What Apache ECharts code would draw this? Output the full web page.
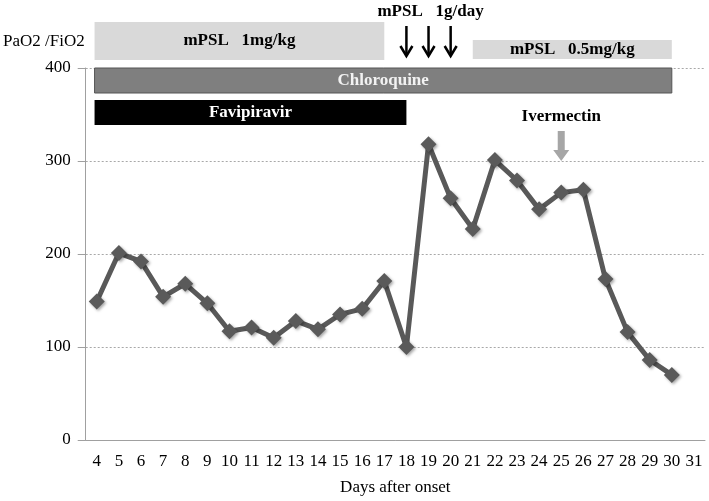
<!DOCTYPE html>
<html><head><meta charset="utf-8">
<script src="https://cdn.jsdelivr.net/npm/echarts@6/dist/echarts.min.js"></script>
<style>html,body{margin:0;padding:0;background:#fff}#c{width:709px;height:501px}</style>
</head><body><div id="c"></div>
<script>
// ---- data ----
const days = ['4','5','6','7','8','9','10','11','12','13','14','15','16','17','18','19','20','21','22','23','24','25','26','27','28','29','30','31'];
const pfRatio = [149,201,192,154,168,147,117,121,110,128,119,135,141,171,100,318,260,227,301,279,248,266,269,173,116,86,70,null];
const yTicks = [0,100,200,300,400];
// treatment spans, in days after onset
const mpsl1mgSpan = [3.9, 17.0];
const chloroquineSpan = [3.9, 30.0];
const favipiravirSpan = [3.9, 18.0];
const mpsl05mgSpan = [21.0, 30.0];
const pulseDays = [18, 19, 20];
const ivermectinDay = 25;

const FONT = "'Liberation Serif','Times New Roman',serif";
const chart = echarts.init(document.getElementById('c'));
chart.setOption({
  animation: false,
  backgroundColor: '#fff',
  grid: {left: 85, right: 4, top: 68, bottom: 57},
  xAxis: {
    type: 'category', data: days, boundaryGap: true,
    name: 'Days after onset', nameLocation: 'middle', nameGap: 39,
    nameTextStyle: {fontFamily: FONT, fontSize: 17, color: '#000'},
    axisLine: {lineStyle: {color: '#a0a0a0', width: 1}},
    axisTick: {alignWithLabel: true, length: 5, lineStyle: {color: '#a0a0a0'}},
    axisLabel: {fontFamily: FONT, fontSize: 17, color: '#000', interval: 0, margin: 13}
  },
  yAxis: {
    type: 'value', min: yTicks[0], max: yTicks[yTicks.length-1], interval: 100,
    name: 'PaO2 /FiO2', nameLocation: 'end', nameGap: 18,
    nameTextStyle: {fontFamily: FONT, fontSize: 17, color: '#000', align: 'right', padding: [0, 1, 0, 0]},
    axisLine: {show: true, lineStyle: {color: '#a0a0a0'}},
    axisTick: {show: true, length: 8, lineStyle: {color: '#a0a0a0'}},
    axisLabel: {fontFamily: FONT, fontSize: 17, color: '#000', margin: 15},
    splitLine: {lineStyle: {type: [2, 2], color: '#a8a8a8'}}
  },
  series: [{
    type: 'line', data: pfRatio, connectNulls: false,
    lineStyle: {color: '#595959', width: 5},
    symbol: 'diamond', symbolSize: 16,
    itemStyle: {color: '#5a5a5a', shadowBlur: 3, shadowColor: 'rgba(0,0,0,0.35)', shadowOffsetX: 1.5, shadowOffsetY: 1.5}
  }]
});

function xPx(day) {
  const p0 = chart.convertToPixel({xAxisIndex: 0}, 0);
  const p1 = chart.convertToPixel({xAxisIndex: 0}, 1);
  return p0 + (day - 4) * (p1 - p0);
}
function bar(span, y, h, fill, stroke, label, txtColor) {
  const x0 = xPx(span[0]), x1 = xPx(span[1]);
  const els = [{type: 'rect', shape: {x: x0, y: y, width: x1 - x0, height: h},
    style: {fill: fill, stroke: stroke, lineWidth: stroke ? 1 : 0}, z: 10}];
  els.push({type: 'text', x: (x0 + x1) / 2, y: y + h / 2, z: 11,
    style: {text: label, fill: txtColor, font: 'bold 17px ' + FONT, textAlign: 'center', textVerticalAlign: 'middle'}});
  return els;
}
function thinArrow(day) {
  const x = xPx(day);
  return [
    {type: 'line', shape: {x1: x, y1: 26, x2: x, y2: 55}, style: {stroke: '#000', lineWidth: 2.5}, z: 10},
    {type: 'polyline', shape: {points: [[x - 6, 46], [x, 56], [x + 6, 46]]}, style: {stroke: '#000', lineWidth: 2.5, fill: null}, z: 10}
  ];
}
function blockArrow(day) {
  const x = xPx(day);
  return [{type: 'polygon', z: 10, shape: {points: [[x - 3.5, 131], [x + 3.5, 131], [x + 3.5, 150], [x + 8, 150], [x, 161], [x - 8, 150], [x - 3.5, 150]]},
    style: {fill: '#a6a6a6'}}];
}
let g = [];
g = g.concat(bar(mpsl1mgSpan, 22, 38, '#d9d9d9', null, 'mPSL\u00a0\u00a0\u00a01mg/kg', '#000'));
g = g.concat(bar(chloroquineSpan, 68, 25, '#7f7f7f', '#555', 'Chloroquine', '#f2f2f2'));
g = g.concat(bar(favipiravirSpan, 100, 25, '#000', null, 'Favipiravir', '#fff'));
g = g.concat(bar(mpsl05mgSpan, 40, 19, '#d9d9d9', null, 'mPSL\u00a0\u00a0\u00a00.5mg/kg', '#000'));
pulseDays.forEach(d => { g = g.concat(thinArrow(d)); });
g.push({type: 'text', x: xPx(19) + 2, y: 12, z: 11,
  style: {text: 'mPSL\u00a0\u00a0\u00a01g/day', fill: '#000', font: 'bold 17px ' + FONT, textAlign: 'center', textVerticalAlign: 'middle'}});
g.push({type: 'text', x: xPx(ivermectinDay), y: 117, z: 11,
  style: {text: 'Ivermectin', fill: '#000', font: 'bold 17px ' + FONT, textAlign: 'center', textVerticalAlign: 'middle'}});
g = g.concat(blockArrow(ivermectinDay));
chart.setOption({graphic: g});
</script></body></html>
